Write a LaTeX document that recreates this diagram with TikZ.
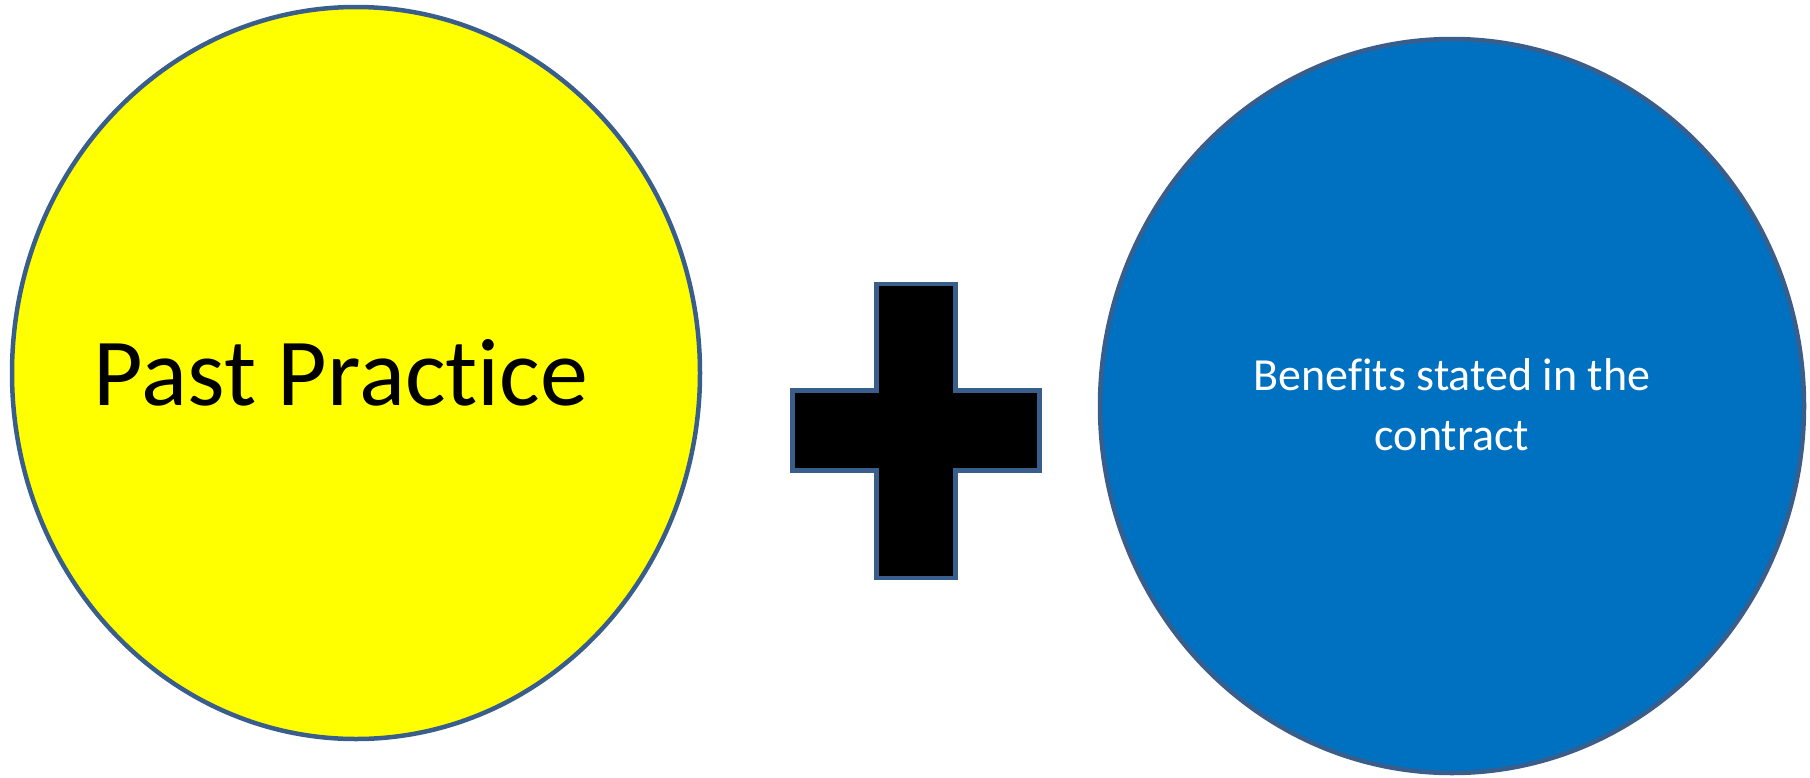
\documentclass[tikz,border=0pt]{standalone}
\usepackage{fontspec}
\setmainfont[Ligatures={NoCommon,NoRare,NoDiscretionary}]{Carlito}
\usetikzlibrary{shapes.geometric}
\definecolor{edgeblue}{HTML}{3A5E8C}
\definecolor{fillyellow}{HTML}{FFFF00}
\definecolor{fillblue}{HTML}{0070C0}
\tikzset{
  bubble/.style={ellipse, draw=edgeblue, line width=4.5pt, inner sep=0pt},
  plusshape/.style={draw=edgeblue, line width=4.7pt, fill=black, line join=miter},
  bigtext/.style={font=\fontsize{96}{115}\selectfont, text=black},
  smalltext/.style={font=\fontsize{46}{60}\selectfont, text=white, align=center}
}
\begin{document}
\begin{tikzpicture}[x=1pt, y=-1pt]
\useasboundingbox (0,0) rectangle (1810,777);
\node[bubble, fill=fillyellow, minimum width=688pt, minimum height=732pt] (past) at (356,373) {};
\node[bigtext] (pastlabel) at (341,373) {Past Practice};
\node[bubble, fill=fillblue, minimum width=704pt, minimum height=734pt] (benefits) at (1452,406) {};
\node[smalltext] (benefitslabel) at (1452,405) {Benefits stated in the\\contract};
\draw[plusshape] (876.3,284) -- (955.6,284) -- (955.6,390.6) -- (1039.7,390.6)
  -- (1039.7,470.6) -- (955.6,470.6) -- (955.6,578) -- (876.3,578)
  -- (876.3,470.6) -- (792.3,470.6) -- (792.3,390.6) -- (876.3,390.6) -- cycle;
\end{tikzpicture}
\end{document}
